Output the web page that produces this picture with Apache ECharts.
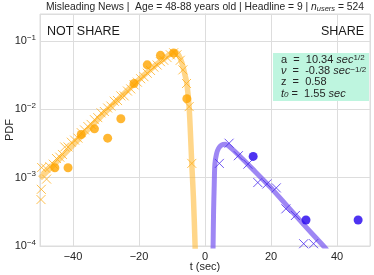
<!DOCTYPE html>
<html>
<head>
<meta charset="utf-8">
<script src="https://cdn.jsdelivr.net/npm/echarts@6/dist/echarts.min.js"></script>
<style>
html,body{margin:0;padding:0;background:#fff;}
#c{width:374px;height:275px;}
</style>
</head>
<body>
<div id="c"></div>
<script>
// NOT SHARE side (negative t): fitted curve, per-sample crosses, binned circles
var notShareLineT = [-50, -45, -40, -35, -30, -25, -20, -15, -12, -10, -9, -8, -7, -6, -5.5, -4.8, -4.0, -3.5, -3.0, -2.8];
var notShareLineP = [0.00098, 0.0017, 0.0030, 0.0054, 0.0093, 0.0162, 0.0275, 0.0447, 0.0575, 0.0676, 0.069, 0.063, 0.048, 0.031, 0.024, 0.0107, 0.00158, 0.0005, 0.0001, 0.00004];

var notShareCrossT = [-49.5, -49.6, -49.7, -48.3, -48.0, -47, -46, -45, -44, -43.2, -42.5, -41.5, -40.5, -39.5, -38.5, -37.5, -36.5, -35.5, -34.5, -33.5, -32.5, -31.5, -30.5, -29.5, -28.5, -27.5, -26.5, -25.5, -24.5, -23.5, -22.5, -21.5, -20.5, -19.5, -18.5, -17.5, -16.5, -15.5, -14.5, -13.5, -12.5, -11.5, -10.5, -9.5, -8.5, -7.5, -6.7, -5.6, -4.8, -4.0];
var notShareCrossP = [0.00141, 0.000676, 0.000479, 0.00138, 0.000955, 0.00145, 0.00158, 0.00191, 0.00200, 0.00219, 0.00282, 0.00282, 0.00331, 0.00355, 0.00380, 0.00457, 0.00501, 0.00562, 0.00603, 0.00708, 0.00759, 0.00891, 0.00933, 0.0105, 0.0112, 0.0132, 0.0135, 0.0158, 0.0158, 0.0186, 0.0200, 0.0229, 0.0251, 0.0282, 0.0302, 0.0339, 0.0372, 0.0417, 0.0447, 0.0501, 0.0525, 0.0575, 0.0631, 0.0676, 0.0631, 0.0525, 0.0380, 0.0240, 0.0110, 0.00162];

var notShareDotT = [-45.5, -41.5, -37.5, -33.5, -29.5, -25.5, -21.5, -17.5, -13.5, -9.5, -5.5];
var notShareDotP = [0.0014, 0.0014, 0.0043, 0.0052, 0.0038, 0.0073, 0.024, 0.045, 0.062, 0.067, 0.0144];

// SHARE side (positive t)
var shareLineT = [2.4, 2.45, 2.6, 2.8, 3.0, 3.5, 4.1, 5.0, 6.1, 8, 10, 15, 20, 25, 30, 35.5, 37];
var shareLineP = [0.00007, 0.0001, 0.00032, 0.00079, 0.00158, 0.00224, 0.00269, 0.0030, 0.0031, 0.00269, 0.00219, 0.00126, 0.00071, 0.00038, 0.000204, 0.000105, 0.000087];

var shareCrossT = [4.35, 7.3, 10.1, 13.0, 16.0, 18.75, 21.6, 24.5, 27.4, 29.9, 32.9];
var shareCrossP = [0.00162, 0.0032, 0.0021, 0.00158, 0.00085, 0.00081, 0.00071, 0.00035, 0.00028, 0.000108, 0.000108];

var shareDotT = [14.6, 30.6, 46.4];
var shareDotP = [0.00205, 0.00024, 0.00024];

// axis ticks
var xTicks = [-40, -20, 0, 20, 40];
var yTicks = [0.0001, 0.001, 0.01, 0.1];

function zip(a, b) { return a.map(function (v, i) { return [v, b[i]]; }); }

var FONT = 'Liberation Sans, Arial, sans-serif';
var CROSS = 'path://M0,0L10,10M10,0L0,10';

var chart = echarts.init(document.getElementById('c'), null, {renderer: 'canvas'});
chart.setOption({
  animation: false,
  backgroundColor: '#fff',
  textStyle: {fontFamily: FONT},
  grid: {left: 40, right: 4, top: 14, bottom: 29, show: true, borderColor: '#dddddd', borderWidth: 1,
    containLabel: false, outerBoundsMode: 'none'},
  title: {
    text: 'Misleading News |  Age = 48-88 years old | Headline = 9 | {i|n}{sub|users} = 524',
    left: 205, top: 1, textAlign: 'center', padding: 0,
    textStyle: {fontSize: 10.3, fontWeight: 'normal', color: '#262626', fontFamily: FONT,
      rich: {
        i: {fontSize: 10.3, fontStyle: 'italic', color: '#262626', fontFamily: FONT},
        sub: {fontSize: 7.5, fontStyle: 'italic', color: '#262626', verticalAlign: 'bottom', padding: [4, 0, 0, 0], fontFamily: FONT}
      }}
  },
  xAxis: {
    type: 'value', min: -50, max: 50,
    name: 't (sec)', nameLocation: 'middle', nameGap: 15, nameMoveOverlap: false,
    nameTextStyle: {fontSize: 11, color: '#262626', fontFamily: FONT},
    axisLine: {show: true, lineStyle: {color: '#dddddd'}},
    axisTick: {show: false},
    axisLabel: {fontSize: 11, color: '#262626', margin: 5, showMinLabel: false, showMaxLabel: false, fontFamily: FONT,
      formatter: function (v) { return xTicks.indexOf(v) >= 0 ? (v < 0 ? '\u2212' + (-v) : String(v)) : ''; }},
    splitLine: {show: true, lineStyle: {color: '#dddddd', width: 1}}
  },
  yAxis: {
    type: 'log', min: 0.0001, max: 0.25, logBase: 10,
    name: 'PDF', nameLocation: 'middle', nameGap: 25, nameRotate: 90, nameMoveOverlap: false,
    nameTextStyle: {fontSize: 11, color: '#262626', fontFamily: FONT},
    axisLine: {show: true, lineStyle: {color: '#dddddd'}},
    axisTick: {show: false},
    axisLabel: {fontSize: 11, color: '#262626', margin: 4, showMaxLabel: false, fontFamily: FONT,
      formatter: function (v) {
        var e = Math.round(Math.log(v) / Math.LN10);
        var ok = yTicks.some(function (t) { return Math.abs(Math.log(t) / Math.LN10 - e) < 1e-6; });
        if (!ok || Math.abs(Math.log(v) / Math.LN10 - e) > 1e-3) return '';
        return '10{sup|\u2212' + (-e) + '}';
      },
      rich: {sup: {fontSize: 8, color: '#262626', verticalAlign: 'top', padding: [0, 0, 7, 0], fontFamily: FONT}}
    },
    splitLine: {show: true, lineStyle: {color: '#dddddd', width: 1}}
  },
  series: [
    {type: 'line', data: zip(notShareLineT, notShareLineP), showSymbol: false, smooth: 0.3, clip: true, z: 1,
      lineStyle: {color: 'rgba(255,180,40,0.55)', width: 5.5}},
    {type: 'line', data: zip(shareLineT, shareLineP), showSymbol: false, smooth: 0.3, clip: true, z: 1,
      lineStyle: {color: 'rgba(125,95,240,0.75)', width: 5}},
    {type: 'scatter', data: zip(notShareCrossT, notShareCrossP), symbol: CROSS, symbolSize: 9, z: 2,
      itemStyle: {color: 'none', borderColor: '#FFB020', borderWidth: 1}},
    {type: 'scatter', data: zip(notShareDotT, notShareDotP), symbol: 'circle', symbolSize: 9, z: 3,
      itemStyle: {color: '#FFA500'}},
    {type: 'scatter', data: zip(shareCrossT, shareCrossP), symbol: CROSS, symbolSize: 9, z: 2,
      itemStyle: {color: 'none', borderColor: '#4A2CEE', borderWidth: 1}},
    {type: 'scatter', data: zip(shareDotT, shareDotP), symbol: 'circle', symbolSize: 9, z: 3,
      itemStyle: {color: '#2200EE'}}
  ],
  graphic: [
    {type: 'text', left: 47, top: 25, z: 10, style: {text: 'NOT SHARE', font: '12.5px ' + FONT, fill: '#1a1a1a'}},
    {type: 'text', right: 10, top: 25, z: 10, style: {text: 'SHARE', font: '12.5px ' + FONT, fill: '#1a1a1a'}},
    {type: 'rect', z: 10, shape: {x: 273, y: 53, width: 96, height: 48}, style: {fill: '#BEF5DF'}},
    {type: 'text', left: 281, top: 54, z: 11, style: {
      text: 'a  =  10.34 {it|sec}{sup|1/2}\n{it|\u03bd}  =  -0.38 {it|sec}{sup|\u22121/2}\nz  =  0.58\n{it|t}{sub|0} =  1.55 {it|sec}',
      font: '11px ' + FONT, fill: '#262626', lineHeight: 11.3,
      rich: {
        it: {fontStyle: 'italic', fontSize: 11, fill: '#262626', fontFamily: FONT, lineHeight: 11.3},
        sup: {fontSize: 8, fill: '#262626', verticalAlign: 'top', padding: [0, 0, 5, 0], fontFamily: FONT, lineHeight: 11.3},
        sub: {fontSize: 8, fontStyle: 'italic', fill: '#262626', verticalAlign: 'bottom', padding: [4, 0, 0, 0], fontFamily: FONT, lineHeight: 11.3}
      }}}
  ]
});
</script>
</body>
</html>
